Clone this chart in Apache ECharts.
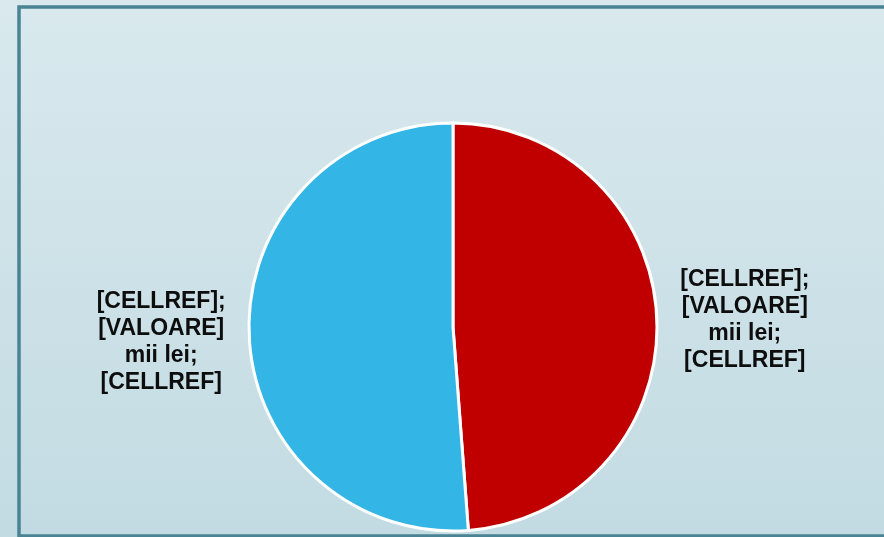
<!DOCTYPE html>
<html>
<head>
<meta charset="utf-8">
<script src="https://cdn.jsdelivr.net/npm/echarts@6/dist/echarts.min.js"></script>
<style>
html,body{margin:0;padding:0;}
#chart{width:884px;height:537px;}
</style>
</head>
<body>
<div id="chart"></div>
<script>
var categories = ['[CELLREF]', '[CELLREF]'];
var values = [48.8, 51.2];
var sliceColors = ['#c00000', '#33b5e6'];
var labelText = '[CELLREF];\n[VALOARE]\nmii lei;\n[CELLREF]';

var chart = echarts.init(document.getElementById('chart'));
var CX = 453, CY = 327, R = 204, LABEL_DIST = 292, LABEL_DY = 4;
var total = values.reduce(function(a,b){return a+b;},0);

chart.setOption({
  backgroundColor: {
    type: 'linear', x: 0, y: 0, x2: 0, y2: 1,
    colorStops: [{offset: 0, color: '#d9e9ee'}, {offset: 1, color: '#c2dbe2'}]
  },
  graphic: [{
    type: 'rect',
    shape: {x: 19, y: 7, width: 900, height: 529},
    style: {fill: 'none', stroke: '#4a8393', lineWidth: 3.5},
    silent: true
  }],
  series: [{
    type: 'pie',
    center: [CX, CY],
    radius: R,
    startAngle: 90,
    clockwise: true,
    animation: false,
    itemStyle: {borderColor: '#ffffff', borderWidth: 3},
    label: {
      show: true,
      position: 'outside',
      formatter: function(){ return labelText; },
      fontFamily: 'Liberation Sans, Arial, sans-serif',
      fontWeight: 'bold',
      fontSize: 23,
      lineHeight: 27,
      color: '#0d0d0d',
      align: 'center'
    },
    labelLine: {show: false},
    labelLayout: function(p){
      var before = 0;
      for (var i = 0; i < p.dataIndex; i++) before += values[i];
      var mid = (before + values[p.dataIndex] / 2) / total * 2 * Math.PI;
      return {
        x: CX + LABEL_DIST * Math.sin(mid),
        y: CY - LABEL_DIST * Math.cos(mid) + LABEL_DY,
        align: 'center',
        verticalAlign: 'middle'
      };
    },
    data: categories.map(function(c, i){
      return {name: c, value: values[i], itemStyle: {color: sliceColors[i]}};
    })
  }]
});
</script>
</body>
</html>
